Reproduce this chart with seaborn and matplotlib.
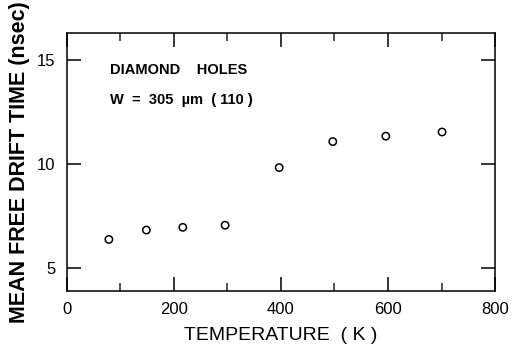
import matplotlib
matplotlib.use("Agg")
import matplotlib.pyplot as plt
import seaborn as sns
import pandas as pd
from matplotlib.ticker import MultipleLocator

temperature = [79, 149, 217, 296, 397, 497, 596, 701]
drift_time = [6.39, 6.84, 6.97, 7.07, 9.84, 11.09, 11.35, 11.55]
x_ticks = [0, 200, 400, 600, 800]
y_ticks = [5, 10, 15]

df = pd.DataFrame({"T": temperature, "tau": drift_time})

sns.set_theme(style="ticks")
plt.rcParams["font.family"] = ["Liberation Sans", "DejaVu Sans"]
plt.rcParams["text.color"] = "black"
plt.rcParams["axes.labelcolor"] = "black"

fig = plt.figure(figsize=(5.12, 3.45), dpi=100)
ax = fig.add_axes([0.130, 0.157, 0.837, 0.747])

sns.scatterplot(data=df, x="T", y="tau", ax=ax, marker="o", s=28,
                facecolor="none", edgecolor="black", linewidth=1.1, legend=False)

ax.set_xlim(0, 800)
ax.set_ylim(3.92, 16.3)
ax.set_xticks(x_ticks)
ax.set_yticks(y_ticks)
ax.xaxis.set_minor_locator(MultipleLocator(100))

for s in ax.spines.values():
    s.set_visible(True)
    s.set_color("black")
    s.set_linewidth(1.1)

ax.tick_params(axis="both", which="major", direction="in", length=10, width=1.1,
               top=True, right=True, labelsize=12, colors="black", pad=8)
ax.tick_params(axis="x", which="minor", direction="in", length=6, width=1.1,
               top=True, bottom=True)

ax.set_xlabel("TEMPERATURE  ( K )", fontsize=14, labelpad=7, color="black")
ax.set_ylabel("MEAN FREE DRIFT TIME (nsec)", fontsize=15.5, fontweight="bold",
              labelpad=5, color="black")

ax.text(0.102, 0.855, "DIAMOND    HOLES", transform=ax.transAxes, fontsize=10.5,
        fontweight="bold", va="center", ha="left", color="black")
ax.text(0.102, 0.74, "W  =  305  µm  ( 110 )", transform=ax.transAxes, fontsize=10.5,
        fontweight="bold", va="center", ha="left", color="black")

fig.savefig("out.png", dpi=100)
